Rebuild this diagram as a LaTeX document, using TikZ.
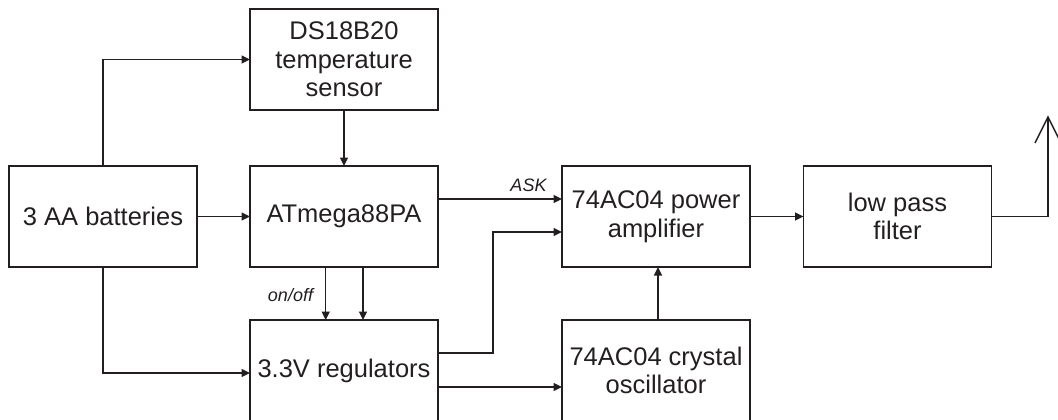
\documentclass[tikz,border=0pt]{standalone}
\usepackage{fontspec}
\setmainfont{Liberation Sans}
\usetikzlibrary{arrows.meta}
\definecolor{ink}{HTML}{231F20}
\tikzset{
  blk/.style={draw=ink, line width=1.6pt, rectangle, minimum width=188pt, minimum height=101pt,
    inner sep=0pt, outer sep=0pt, align=center, text=ink,
    font=\fontsize{25.5}{28.5}\selectfont},
  conn/.style={draw=ink, line width=1.4pt, -{Triangle[length=8.5pt,width=8pt]}},
  wire/.style={draw=ink, line width=1.4pt},
  lbl/.style={text=ink, inner sep=0pt, font=\fontsize{18}{20}\selectfont\itshape}
}
\begin{document}
\begin{tikzpicture}[x=1pt,y=-1pt]
\useasboundingbox (0,0) rectangle (1058,420);
\node[blk] (bat) at (103,216.5) {3 AA batteries};
\node[blk] (ds) at (344,59.5) {DS18B20\\temperature\\sensor};
\node[blk] (atm) at (344,216.5) {ATmega88PA};
\node[blk] (reg) at (344,370.5) {3.3V regulators};
\node[blk] (pa) at (656,216.5) {74AC04 power\\amplifier};
\node[blk] (osc) at (656,370.5) {74AC04 crystal\\oscillator};
\node[blk] (lpf) at (897.5,216.5) {low pass\\filter};
\coordinate (bend) at (493,232);
\coordinate (ant) at (1048,117);
\coordinate (antl) at (1035,143);
\coordinate (antr) at (1061,143);
\draw[conn] (bat.north) |- (ds.west);
\draw[conn] (bat.east) -- (atm.west);
\draw[conn] (bat.south) |- ([yshift=-2.5pt]reg.west);
\draw[conn] (ds.south) -- (atm.north);
\draw[conn] ([xshift=-18.3pt]atm.south) -- ([xshift=-18.3pt]reg.north);
\draw[conn] ([xshift=19pt]atm.south) -- ([xshift=19pt]reg.north);
\draw[conn] ([yshift=17.5pt]atm.east) -- ([yshift=17.5pt]pa.west);
\draw[conn] ([yshift=17.5pt]reg.east) -| (bend) -- ([yshift=-15.5pt]pa.west);
\draw[conn] ([yshift=-16.5pt]reg.east) -- ([yshift=-16.5pt]osc.west);
\draw[conn] ([xshift=2pt]osc.north) -- ([xshift=2pt]pa.south);
\draw[conn] (pa.east) -- (lpf.west);
\draw[wire] (lpf.east) -| (ant);
\draw[wire] (antl) -- (ant) -- (antr);
\node[lbl, anchor=base] (asklbl) at (528.5,191) {ASK};
\node[lbl, anchor=base] (onofflbl) at (290.5,301) {on/off};
\end{tikzpicture}
\end{document}
